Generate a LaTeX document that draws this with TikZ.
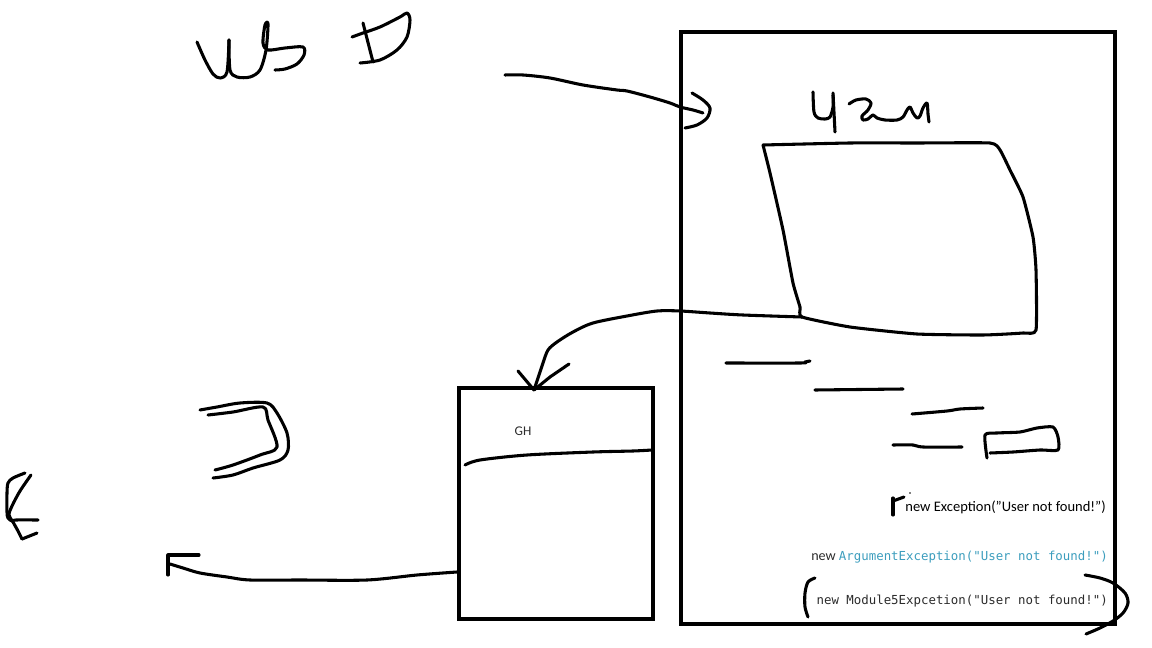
\documentclass[tikz,border=0pt]{standalone}
\usepackage{fontspec}
\setmainfont{Carlito}
\newfontfamily\codefont{DejaVu Sans Mono}
\definecolor{ink}{HTML}{000000}
\definecolor{codeblue}{HTML}{3C9DBD}
\definecolor{codegray}{HTML}{2B2B2B}
\tikzset{
  pen/.style={draw=ink, line width=2.3pt, line cap=round, line join=round},
  boxline/.style={draw=ink, line width=3.4pt},
  label/.style={inner sep=0pt, text=codegray},
}
\begin{document}
\begin{tikzpicture}[x=0.75pt, y=-0.75pt]
\useasboundingbox (0,0) rectangle (1152,648);
% boxes
\coordinate (bigTL) at (681,32); \coordinate (bigBR) at (1115,624);
\coordinate (ghTL) at (459,388); \coordinate (ghBR) at (653,619);
\draw[boxline] (bigTL) rectangle (bigBR);
\draw[boxline] (ghTL) rectangle (ghBR);
% "Ws" scribble
\draw[pen] plot[smooth, tension=0.5] coordinates {(197,42) (205,60) (213,74) (220,78) (227,72) (229,40)};
\draw[pen] plot[smooth, tension=0.5] coordinates {(229,40) (230,70) (237,77) (250,77) (260,70) (266,50) (268,24) (265,25) (263,43) (268,50) (285,48) (303,47) (304,55) (297,64) (285,69) (275,70)};
% "D" scribble
\draw[pen] plot[smooth, tension=0.5] coordinates {(352,37) (363,33) (380,27) (400,17) (407,13) (410,20) (407,37) (397,50) (380,60) (360,63)};
\draw[pen] (363,23) -- (373,62);
% top arrow into big box
\coordinate (a1s) at (505,75); \coordinate (a1e) at (703,113);
\draw[pen] plot[smooth, tension=0.5] coordinates {(a1s) (523,75) (550,78) (583,85) (617,90) (627,91) (650,97) (670,103) (680,107) (693,110) (a1e)};
\draw[pen] plot[smooth, tension=0.5] coordinates {(692,93) (703,100) (710,108) (707,118) (697,125) (685,128)};
% "User" scribble
\draw[pen] plot[smooth, tension=0.5] coordinates {(813,92) (814,112) (818,118) (825,119) (830,117) (833,107) (833,95)};
\draw[pen] (833,93) -- (835,132);
\draw[pen] plot[smooth, tension=0.5] coordinates {(849,104) (856,100) (866,99) (871,103) (868,110) (862,116) (863,120) (868,119) (873,115) (877,118) (885,120) (897,120) (903,117) (907,110) (910,107) (913,113) (917,118) (920,116) (923,108) (927,103) (928,114) (929,122)};
% parallelogram
\coordinate (para) at (802,317);
\draw[pen] plot[smooth, tension=0.3] coordinates {(763,145) (850,143) (917,143) (990,143) (1000,150) (1010,170) (1023,197) (1033,237) (1036,270) (1036,330) (1023,333) (983,335) (917,334) (850,327) (802,317) (800,307) (793,283) (783,230) (770,173) (763,145)};
% arrow from parallelogram to GH box
\coordinate (a2e) at (534,390);
\draw[pen] plot[smooth, tension=0.5] coordinates {(para) (743,315) (710,313) (680,311) (657,311) (627,316) (593,323) (573,332) (557,342) (548,350) (543,363) (538,378) (a2e)};
\draw[pen] (518,371) -- (a2e) -- (550,377) -- (569,364);
% lines inside big box
\draw[pen] plot[smooth, tension=0.5] coordinates {(726,363) (800,363) (805,362) (810,361)};
\draw[pen] (815,390) -- (903,389);
\draw[pen] plot[smooth, tension=0.5] coordinates {(912,414) (947,411) (960,409) (983,408)};
\draw[pen] plot[smooth, tension=0.5] coordinates {(893,445) (913,445) (923,447) (962,447)};
\draw[pen] plot[smooth, tension=0.4] coordinates {(987,458) (985,435) (997,433) (1020,432) (1037,428) (1053,427) (1058,437) (1058,450) (1040,450) (1013,452) (990,453)};
% mark near first text
\draw[pen] (893,498) -- (893,515);
\draw[pen] (893,501) -- (904,497);
\fill[ink] (910,493) circle (0.8);
% texts
\node[label, anchor=base east, font=\fontsize{10.9pt}{13pt}\selectfont, text=black] (t1) at (1106,511) {new Exception("User not found!")};
\node[label, anchor=base east, font=\fontsize{10.6pt}{12pt}\selectfont] (t2) at (1108,560) {new {\codefont\fontsize{9.3pt}{11pt}\selectfont\color{codeblue}ArgumentException("User not found!")}};
\node[label, anchor=base east, font=\codefont\fontsize{9.3pt}{11pt}\selectfont] (t3) at (1108,604) {new Module5Expcetion("User not found!")};
% brackets around third text
\draw[pen] plot[smooth, tension=0.5] coordinates {(815,578) (808,582) (805,593) (805,607) (808,617)};
\draw[pen] plot[smooth, tension=0.5] coordinates {(1085,575) (1100,578) (1113,583) (1125,593) (1128,603) (1123,613) (1113,621) (1100,628) (1086,634)};
% GH box content
\node[label, font=\fontsize{10pt}{12pt}\selectfont] (gh) at (523,431) {GH};
\draw[pen] plot[smooth, tension=0.5] coordinates {(465,465) (480,460) (527,455) (593,452) (633,451) (652,450)};
% left "D" double stroke
\draw[pen] plot[smooth, tension=0.5] coordinates {(200,410) (217,407) (240,403) (267,403) (277,413) (287,433) (288,450) (280,460) (253,468) (233,475) (213,478)};
\draw[pen] plot[smooth, tension=0.5] coordinates {(208,415) (233,412) (263,407) (268,420) (277,447) (260,455) (233,465) (215,470)};
% euro-like mark
\draw[pen] plot[smooth, tension=0.5] coordinates {(25,473) (13,478) (8,483) (7,493) (7,512) (8,518) (12,521) (16,520) (38,520)};
\draw[pen] plot[smooth, tension=0.5] coordinates {(31,475) (20,491) (12,506) (9,515) (13,522) (18,531) (22,539)};
\draw[pen] (22,539) -- (37,533);
% bottom arrow out of GH box
\coordinate (a3s) at (457,572); \coordinate (a3e) at (168,565);
\draw[pen] plot[smooth, tension=0.5] coordinates {(a3s) (417,575) (367,580) (300,580) (250,580) (227,577) (200,573) (183,568) (170,564)};
\draw[pen] (199,555) -- (168,555) -- (168,575);
\end{tikzpicture}
\end{document}
